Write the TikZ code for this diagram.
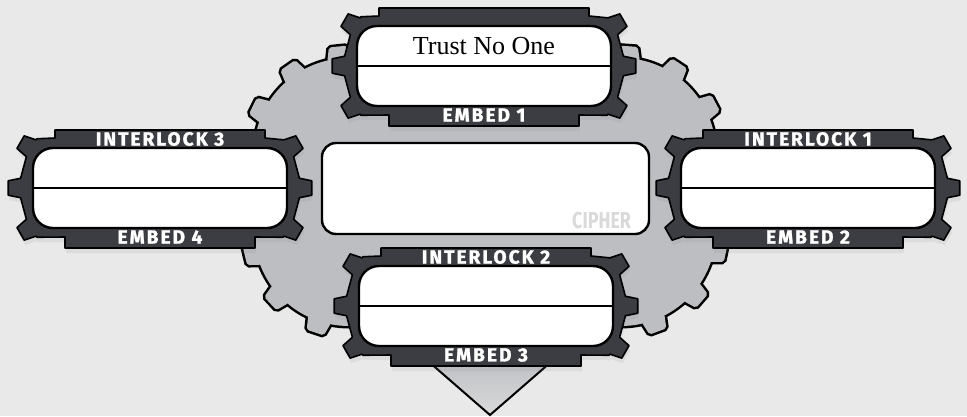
\documentclass[tikz,border=0pt]{standalone}
\usepackage{fontspec}
\usetikzlibrary{calc,decorations.markings,shadows}

\newfontfamily\tagfont{Fira Sans}[LetterSpace=11, FakeBold=1.6]
\newfontfamily\cipherfont{Fira Sans}[FakeStretch=0.78]
\newfontfamily\mottofont{Liberation Serif}

\definecolor{bgcol}{HTML}{E9E9E9}
\definecolor{gearcol}{HTML}{BDBEC2}
\definecolor{platecol}{HTML}{3C3D42}
\definecolor{ciphercol}{HTML}{D9D9D9}

% outline of one plate, drawn round its own centre
\newcommand\platepath{(-105,-58) -- (105,-58) -- (105,-50)
  \foreach \ang in {-30,0,30}{
    -- ([shift={(60,0)}]\ang-7:80) -- ([shift={(60,0)}]\ang-4.5:92)
    -- ([shift={(60,0)}]\ang+4.5:92) -- ([shift={(60,0)}]\ang+7:80)}
  -- ([shift={(60,0)}]38:80) -- (95,49) -- (95,60) -- (-95,60) -- (-95,49)
  -- ([shift={(-60,0)}]142:80)
  \foreach \ang in {150,180,210}{
    -- ([shift={(-60,0)}]\ang-7:80) -- ([shift={(-60,0)}]\ang-4.5:92)
    -- ([shift={(-60,0)}]\ang+4.5:92) -- ([shift={(-60,0)}]\ang+7:80)}
  -- ([shift={(-60,0)}]218:80) -- (-105,-50) -- cycle}

% the big gear behind everything
\newcommand\gearpath{(485,58) -- (716,58) -- (716,326) -- (254,326) -- (254,58) -- cycle}

% plate: name, x, y, top tag, bottom tag
\newcommand\plate[5]{%
  \begin{scope}[shift={(#2,#3)}]
    \draw[platefr] \platepath;
    \node[slot] (#1) at (0,0) {};
    \draw[divline] (#1.west) -- (#1.east);
    \node[tag] (#1-top) at (0,-49) {#4};
    \node[tag] (#1-bot) at (0,49) {#5};
  \end{scope}}

\begin{document}
\begin{tikzpicture}[x=1pt, y=-1pt,
  platefr/.style={draw=black, line width=1.6pt, fill=platecol, line join=round,
    drop shadow={opacity=0.12, shadow xshift=1pt, shadow yshift=-5pt}},
  slot/.style={draw, fill=white, line width=2.4pt, rounded corners=20pt,
    minimum width=254pt, minimum height=80pt, inner sep=0pt},
  divline/.style={line width=2pt},
  tag/.style={text=white, inner sep=0pt,
    font=\tagfont\bfseries\fontsize{19}{19}\selectfont},
  cipher/.style={text=ciphercol, inner sep=0pt,
    font=\cipherfont\bfseries\fontsize{23}{23}\selectfont},
  title/.style={inner sep=0pt, font=\mottofont\fontsize{26}{26}\selectfont},
  tooth/.style={decoration={markings,
    mark=between positions 0 and 1 step 48pt with {#1}}, decorate}
]
\useasboundingbox (0,0) rectangle (967,416);
\fill[bgcol] (0,0) rectangle (967,416);

% gear: outline pass, then fill pass
\draw[line width=5pt, rounded corners=95pt,
  postaction={tooth={\draw[line width=5pt, rounded corners=2pt]
    (-12,2) -- (-9,-12) -- (9,-12) -- (12,2) -- cycle;}}] \gearpath;
\fill[gearcol, rounded corners=95pt,
  postaction={tooth={\fill[gearcol, rounded corners=2pt]
    (-12,2) -- (-9,-12) -- (9,-12) -- (12,2) -- cycle;}}] \gearpath;

% pointer under the bottom plate
\coordinate (vleft) at (421,355);
\coordinate (vtip) at (490,415);
\coordinate (vright) at (559,355);
\draw[line width=2pt, top color=gearcol, bottom color=gearcol!35!bgcol]
  (vleft) -- (vtip) -- (vright);

\node[slot, minimum width=327pt, minimum height=91pt, rounded corners=14pt]
  (cipherbox) at (485.5,188.5) {};
\node[cipher, anchor=base east] (ciphertag)
  at ($(cipherbox.south east)+(-19,-7)$) {CIPHER};

\plate{topslot}{484}{66}{}{EMBED 1}
\plate{leftslot}{160}{188}{INTERLOCK 3}{EMBED 4}
\plate{rightslot}{808}{188}{INTERLOCK 1}{EMBED 2}
\plate{botslot}{486}{306}{INTERLOCK 2}{EMBED 3}

\node[title, anchor=base] (motto) at (484,54) {Trust No One};
\end{tikzpicture}
\end{document}
